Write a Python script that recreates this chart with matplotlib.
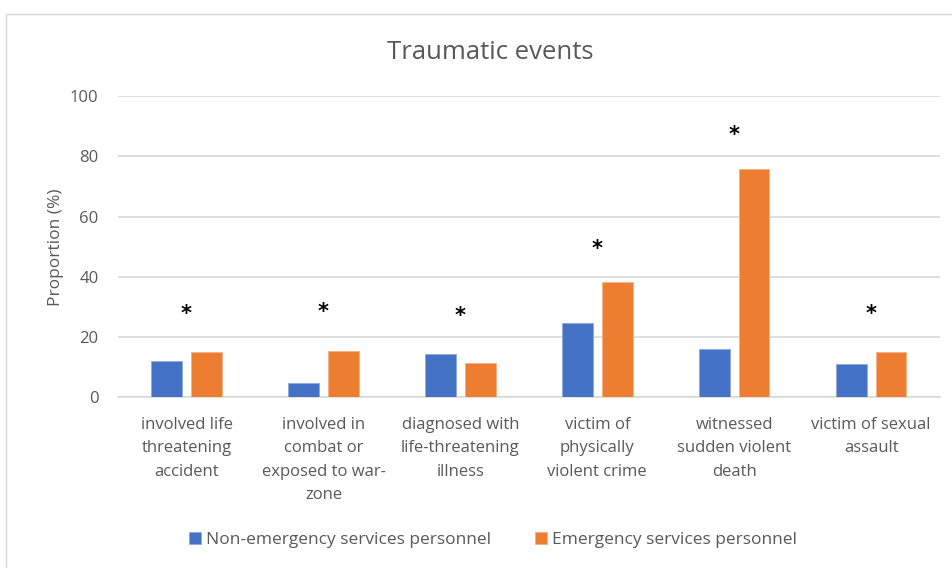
import numpy as np
import matplotlib.pyplot as plt
from matplotlib.patches import Rectangle

# Data
categories = ['involved life\nthreatening\naccident',
              'involved in\ncombat or\nexposed to war-\nzone',
              'diagnosed with\nlife-threatening\nillness',
              'victim of\nphysically\nviolent crime',
              'witnessed\nsudden violent\ndeath',
              'victim of sexual\nassault']
non_emergency = [12.1, 4.8, 14.3, 24.7, 16.1, 11.0]
emergency = [14.9, 15.4, 11.3, 38.3, 75.8, 15.0]
star_heights = [27.8, 28.3, 26.9, 49.3, 87.2, 27.7]

plt.rcParams['font.family'] = ['Open Sans', 'DejaVu Sans']
grey = '#595959'

fig = plt.figure(figsize=(9.52, 5.68), dpi=100)
ax = fig.add_axes([0.124, 0.3005, 0.863, 0.53])

# Chart border
fig.patches.append(Rectangle((0.006, -0.05), 1.1, 1.025, transform=fig.transFigure,
                             fill=False, edgecolor='#d9d9d9', linewidth=1))

x = np.arange(len(categories))
w = 0.225
ax.bar(x - 0.145, non_emergency, w, color='#4472C4', label='Non-emergency services personnel',
       edgecolor='#8fa9dc', linewidth=0.6, zorder=3)
ax.bar(x + 0.145, emergency, w, color='#ED7D31', label='Emergency services personnel',
       edgecolor='#f5b183', linewidth=0.6, zorder=3)

for i, h in enumerate(star_heights):
    ax.text(x[i], h, '*', ha='center', va='center', fontsize=15, color='black',
            family='DejaVu Sans', fontweight='bold')

ax.set_xlim(-0.5, len(categories) - 0.5)
ax.set_ylim(0, 100)
ax.set_yticks(range(0, 101, 20))
ax.yaxis.grid(True, color='#d9d9d9', linewidth=1.2, zorder=0)
ax.set_axisbelow(True)
for s in ['top', 'right', 'left']:
    ax.spines[s].set_visible(False)
ax.spines['bottom'].set_color('#d9d9d9')
ax.spines['bottom'].set_linewidth(1.2)
ax.tick_params(axis='both', length=0, labelsize=12, labelcolor=grey)
ax.tick_params(axis='y', pad=14)
ax.tick_params(axis='x', pad=14)
ax.set_xticks(x)
ax.set_xticklabels(categories, linespacing=1.63)

ax.set_ylabel('Proportion (%)', fontsize=12.5, color=grey, labelpad=4)
fig.text(0.515, 0.907, 'Traumatic events', ha='center', va='center', fontsize=18.5, color=grey)

fig.legend(loc='center', bbox_to_anchor=(0.518, 0.049), ncol=2, frameon=False,
           fontsize=12.5, labelcolor=grey, handlelength=0.7, handleheight=0.7,
           handletextpad=0.3, columnspacing=2.5)

fig.savefig('out.png', dpi=100)
